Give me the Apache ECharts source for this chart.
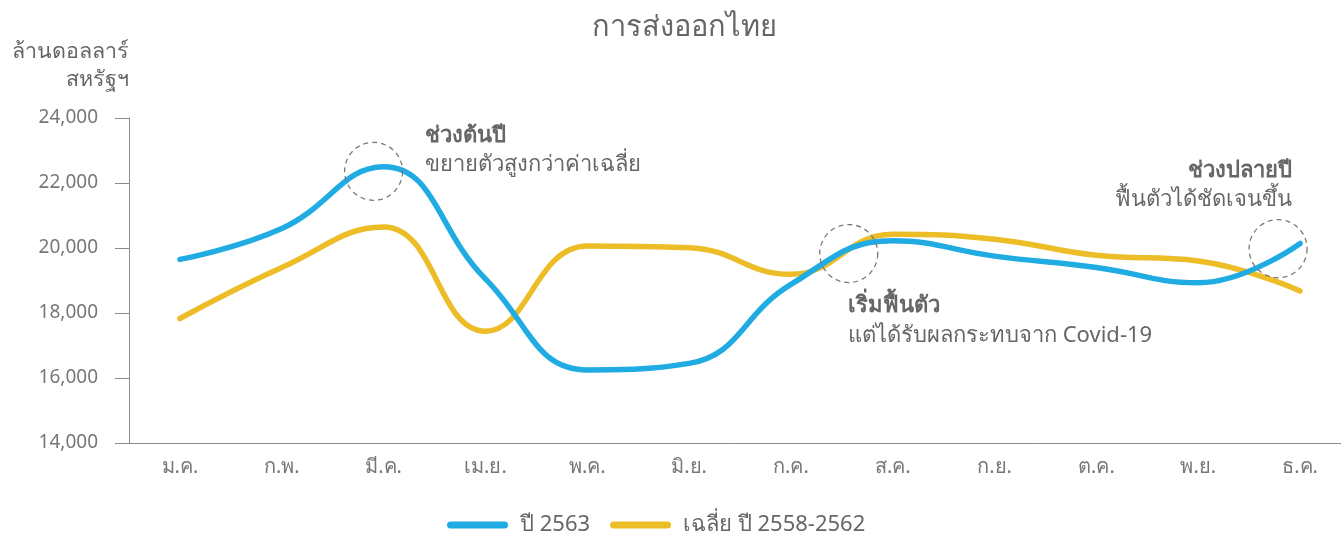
<!DOCTYPE html>
<html><head><meta charset="utf-8">
<script src="https://cdn.jsdelivr.net/npm/echarts@6/dist/echarts.min.js"></script>
<style>html,body{margin:0;padding:0;background:#fff}#c{width:1341px;height:539px}</style>
</head><body><div id="c"></div>
<script>
const categories = ['ม.ค.','ก.พ.','มี.ค.','เม.ย.','พ.ค.','มิ.ย.','ก.ค.','ส.ค.','ก.ย.','ต.ค.','พ.ย.','ธ.ค.'];
const series2563 = [19650, 20600, 22500, 19050, 16250, 16450, 18880, 20220, 19750, 19400, 18930, 20140];
const seriesAvg = [17830, 19400, 20650, 17440, 20060, 20010, 19190, 20420, 20270, 19775, 19600, 18680];
const yTicks = {min: 14000, max: 24000, interval: 2000};
const FONT = 'Noto Sans, sans-serif';
const chart = echarts.init(document.getElementById('c'));
const circ = (coord, off) => ({coord, symbol:'circle', symbolSize:58, symbolOffset:off,
  itemStyle:{color:'rgba(0,0,0,0)', borderColor:'#7a7a7a', borderWidth:1.3, borderType:[5,4]}, label:{show:false}});
chart.setOption({
  animation:false,
  textStyle:{fontFamily:FONT},
  grid:{left:129, top:118, width:1222, bottom:96, outerBoundsMode:'none', containLabel:false},
  legend:{top:514, left:447, padding:0, itemWidth:61, itemHeight:7, itemGap:20,
    icon:'path://M3.5,0 L57.5,0 A3.5,3.5 0 0 1 57.5,7 L3.5,7 A3.5,3.5 0 0 1 3.5,0 Z',
    textStyle:{fontSize:22, color:'#666', fontFamily:FONT, padding:[0,0,0,7]},
    data:['ปี 2563','เฉลี่ย ปี 2558-2562']},
  xAxis:{type:'category', data:categories, boundaryGap:true,
    axisLine:{lineStyle:{color:'#8a8a8a', width:1}},
    axisTick:{length:12, lineStyle:{color:'#8a8a8a'}},
    axisLabel:{fontSize:20, color:'#777', margin:14, fontFamily:FONT}},
  yAxis:{type:'value', min:yTicks.min, max:yTicks.max, interval:yTicks.interval,
    name:'ล้านดอลลาร์\nสหรัฐฯ', nameLocation:'end', nameGap:24,
    nameTextStyle:{fontSize:21.5, color:'#666', align:'right', lineHeight:28, fontFamily:FONT},
    splitLine:{show:false},
    axisLine:{show:true, lineStyle:{color:'#8a8a8a'}},
    axisTick:{show:true, length:14, lineStyle:{color:'#8a8a8a'}},
    axisLabel:{fontSize:19, color:'#777', margin:31, fontFamily:FONT,
      formatter:v=>v.toLocaleString('en-US')}},
  series:[
    {name:'ปี 2563', type:'line', data:series2563, smooth:0.45, symbol:'none',
      lineStyle:{width:5.5, color:'#20ace3', cap:'round'}, itemStyle:{color:'#20ace3'}, z:3,
      markPoint:{silent:true, data:[circ(['มี.ค.',22360],[-10,0]), circ(['ส.ค.',19830],[-44,0]), circ(['ธ.ค.',19980],[-22,0])]}},
    {name:'เฉลี่ย ปี 2558-2562', type:'line', data:seriesAvg, smooth:0.45, symbol:'none',
      lineStyle:{width:5.5, color:'#ecbd27', cap:'round'}, itemStyle:{color:'#ecbd27'}, z:2}
  ],
  graphic:[
    {type:'text', x:684, y:28, style:{text:'การส่งออกไทย', fontSize:29, fill:'#666', fontFamily:FONT, align:'center', verticalAlign:'middle'}},
    {type:'text', left:425, top:125, style:{text:'ช่วงต้นปี', fontSize:22, fontWeight:'bold', fill:'#666', fontFamily:FONT}},
    {type:'text', left:425, top:154, style:{text:'ขยายตัวสูงกว่าค่าเฉลี่ย', fontSize:22, fill:'#666', fontFamily:FONT}},
    {type:'text', left:848, top:295, style:{text:'เริ่มฟื้นตัว', fontSize:22, fontWeight:'bold', fill:'#666', fontFamily:FONT}},
    {type:'text', left:848, top:325, style:{text:'แต่ได้รับผลกระทบจาก Covid-19', fontSize:22, fill:'#666', fontFamily:FONT}},
    {type:'text', right:49, top:160, style:{text:'ช่วงปลายปี', fontSize:22, fontWeight:'bold', fill:'#666', fontFamily:FONT}},
    {type:'text', right:49, top:189, style:{text:'ฟื้นตัวได้ชัดเจนขึ้น', fontSize:22, fill:'#666', fontFamily:FONT}}
  ]
});
</script></body></html>
